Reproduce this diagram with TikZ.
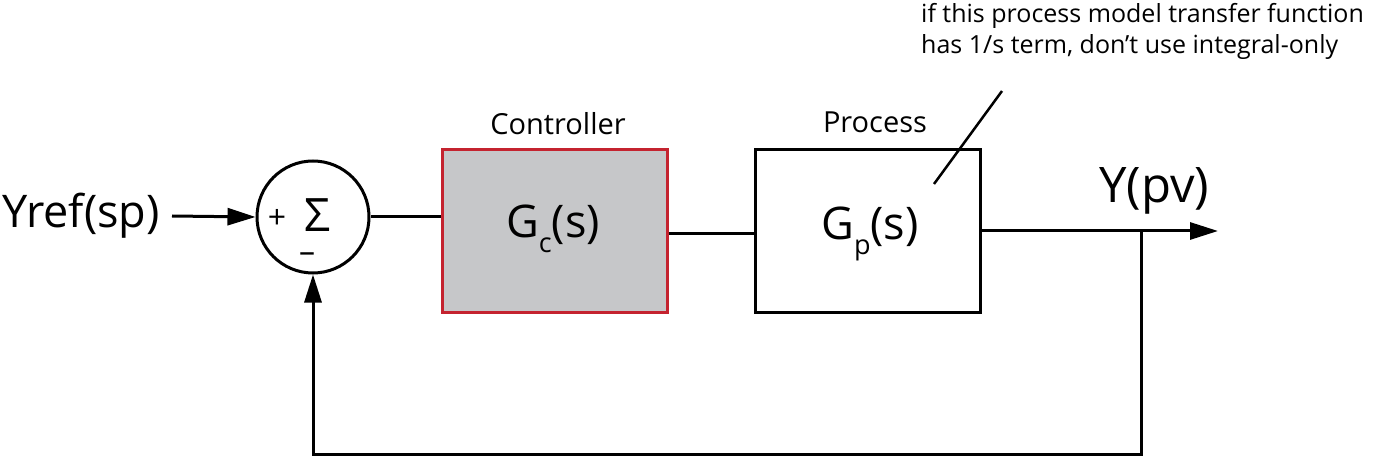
\documentclass[tikz,border=0pt]{standalone}
\usepackage{fontspec}
\setmainfont{Open Sans}
\newfontfamily\sigfont{Open Sans}
\usetikzlibrary{arrows.meta}
\definecolor{boxgray}{HTML}{C6C7C9}
\definecolor{boxred}{HTML}{C4232F}
\tikzset{
  wire/.style={line width=3pt},
  arr/.style={wire,-{Triangle[length=28pt,width=17pt]}},
  blk/.style={draw,line width=3pt,minimum width=225pt,minimum height=162pt,inner sep=0pt},
  txt/.style={inner sep=0pt,anchor=base},
}
\newcommand{\fs}[1]{\fontsize{#1}{#1}\selectfont}
\begin{document}
\begin{tikzpicture}[x=1pt,y=-1pt]
\useasboundingbox (0,0) rectangle (1395,457);
% summing junction
\node[draw,circle,line width=3pt,minimum size=112pt,inner sep=0pt] (sum) at (313,217) {};
\node[inner sep=0pt] (sig) at (318,215) {\sigfont\fs{46}Σ};
\node[inner sep=0pt] (plus) at (277,219) {\fs{32}+};
\node[inner sep=0pt] (minus) at (307,258) {\fs{32}–};
% blocks
\node[blk,fill=boxgray,draw=boxred] (ctrl) at (554.5,231) {};
\node[blk] (proc) at (868,231) {};
\node[txt] (ctrllbl) at (558,135) {\fs{29}Controller};
\node[txt] (proclbl) at (875,133) {\fs{29}Process};
\node[txt] (gc) at (553,237) {\fs{45}G\raisebox{-15pt}{\fs{27}c}(s)};
\node[txt] (gp) at (870,240) {\fs{45}G\raisebox{-15pt}{\fs{27}p}(s)};
% input / output labels
\node[txt,anchor=base west] (yref) at (2,228) {\fs{45}Yref(sp)};
\node[txt,anchor=base west] (ypv) at (1099,203) {\fs{49}Y(pv)};
% annotation
\node[inner sep=0pt,anchor=north west,align=left,font=\fontsize{25}{31}\selectfont] (note) at (921,3)
  {if this process model transfer function\\has 1/s term, don’t use integral-only};
% coordinates
\coordinate (in) at (172,216);
\coordinate (out) at (1218,231);
\coordinate (tap) at (1141,231);
\coordinate (bot) at (1141,454);
\coordinate (lead1) at (934,184);
\coordinate (lead2) at (1002,91);
% connectors
\draw[arr] (in) -- (sum.west);
\draw[wire] (sum.east) -- (sum.east -| ctrl.west);
\draw[wire] ([yshift=-3pt]ctrl.east) -- ([yshift=-3pt]proc.west);
\draw[arr] (proc.east) -- (out);
\draw[arr] (tap) -- (bot) -| (sum.south);
\draw[line width=2.5pt] (lead1) -- (lead2);
\end{tikzpicture}
\end{document}
